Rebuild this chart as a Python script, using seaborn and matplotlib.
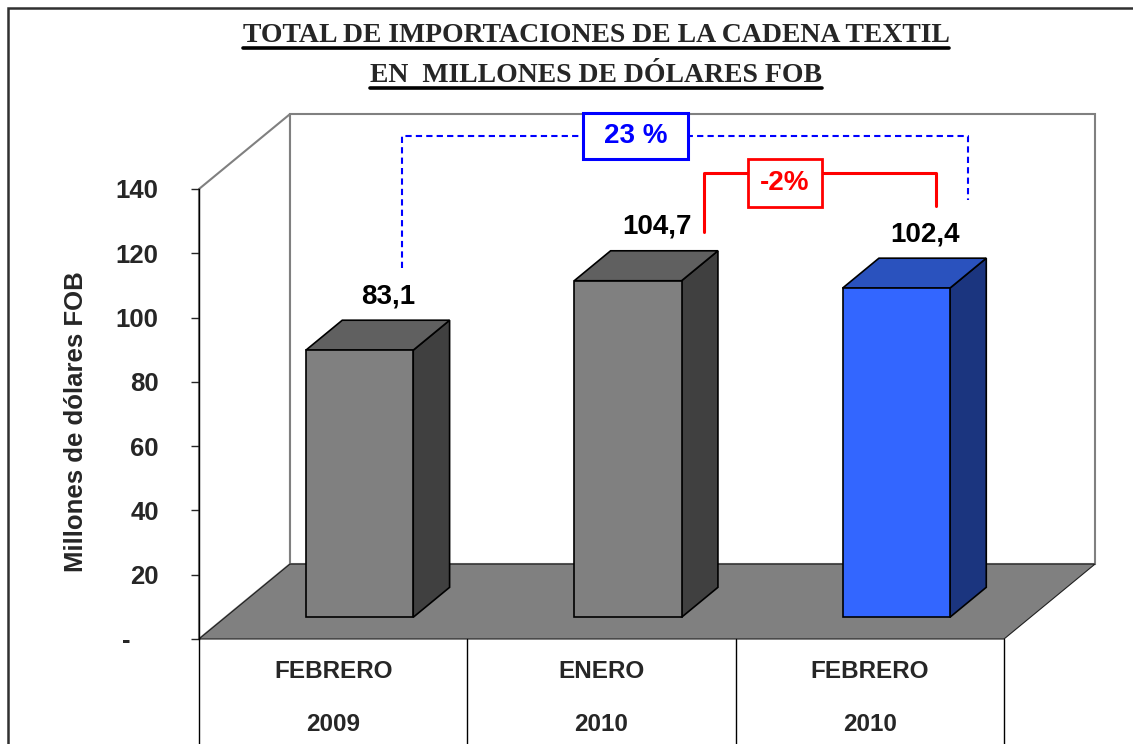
import matplotlib
matplotlib.use("Agg")
import matplotlib.pyplot as plt
from matplotlib.patches import Polygon, Rectangle
from matplotlib.lines import Line2D
import seaborn as sns

# data
periods = ["FEBRERO 2009", "ENERO 2010", "FEBRERO 2010"]
months = ["FEBRERO", "ENERO", "FEBRERO"]
years = ["2009", "2010", "2010"]
values = [83.1, 104.7, 102.4]
value_labels = ["83,1", "104,7", "102,4"]
front_colors = ["#808080", "#808080", "#3366FF"]
top_colors = ["#606060", "#606060", "#2A52BE"]
side_colors = ["#404040", "#404040", "#1B357F"]
yticks = [0, 20, 40, 60, 80, 100, 120, 140]
ytick_labels = ["-    ", "20", "40", "60", "80", "100", "120", "140"]

title1 = "TOTAL DE IMPORTACIONES DE LA CADENA TEXTIL"
title2 = "EN  MILLONES DE DÓLARES FOB"
ylabel = "Millones de dólares FOB"

# percent changes shown in the boxes
pct_year = round((values[2] / values[0] - 1) * 100)
pct_month = round((values[2] / values[1] - 1) * 100)

# fake 3d depth (x in category units, y in value units)
DX, DY = 0.339, 23.3
F0, FB = 0.29, 0.40

sns.set_style("white")
plt.rcParams['font.family'] = ['Liberation Sans', 'DejaVu Sans']

fig = plt.figure(figsize=(11.33, 7.44), dpi=100)
ax = fig.add_axes([199 / 1133, 105 / 744, 805 / 1133, 450 / 744])

sns.barplot(x=periods, y=values, hue=periods, palette=front_colors, width=0.4,
            saturation=1, edgecolor="black", linewidth=1.2, legend=False, ax=ax, zorder=3)
bars = [p for c in ax.containers for p in c]

# walls and floor
ax.add_patch(Rectangle((-0.5 + DX, DY), 3, 140, facecolor="white",
                       edgecolor="#808080", lw=1.5, zorder=0.1, clip_on=False))
ax.add_patch(Polygon([(-0.5, 0), (-0.5, 140), (-0.5 + DX, 140 + DY), (-0.5 + DX, DY)],
                     closed=True, facecolor="white", edgecolor="#808080", lw=1.5,
                     zorder=0.2, clip_on=False))
ax.add_patch(Polygon([(-0.5, 0), (2.5, 0), (2.5 + DX, DY), (-0.5 + DX, DY)],
                     closed=True, facecolor="#808080", edgecolor="#202020", lw=0.8,
                     zorder=0.3, clip_on=False))

for i, p in enumerate(bars):
    x0 = p.get_x() + F0 * DX
    w = p.get_width()
    h = p.get_height()
    y0 = F0 * DY
    bx, by = FB * DX, FB * DY
    p.set_x(x0)
    p.set_y(y0)
    p.set_clip_on(False)
    ax.add_patch(Polygon([(x0 + w, y0), (x0 + w + bx, y0 + by), (x0 + w + bx, y0 + by + h),
                          (x0 + w, y0 + h)], closed=True, facecolor=side_colors[i],
                         edgecolor="black", lw=1.2, zorder=2.5, clip_on=False))
    ax.add_patch(Polygon([(x0, y0 + h), (x0 + bx, y0 + h + by), (x0 + w + bx, y0 + h + by),
                          (x0 + w, y0 + h)], closed=True, facecolor=top_colors[i],
                         edgecolor="black", lw=1.2, zorder=2.5, clip_on=False))
    ax.text(x0 + w / 2 + 0.8 * bx, y0 + h + by + 7.5, value_labels[i], ha="center",
            va="center", fontsize=20, fontweight="bold", color="black", zorder=5,
            clip_on=False)

ax.set_xlim(-0.5, 2.5)
ax.set_ylim(0, 140)
ax.set_yticks(yticks)
ax.set_yticklabels(ytick_labels, fontsize=18.5, fontweight="bold")
ax.tick_params(axis="y", direction="out", length=6, width=1, pad=23, left=True)
ax.set_xticks([])
ax.set_xlabel("")
ax.set_ylabel(ylabel, fontsize=18.5, fontweight="bold")
ax.yaxis.set_label_coords(-0.138, 0.484)
for s in ["top", "right", "bottom"]:
    ax.spines[s].set_visible(False)
ax.spines["left"].set_color("black")
ax.spines["left"].set_linewidth(1)
ax.spines["left"].set_zorder(4)
ax.patch.set_alpha(0)

# category "table" under the floor
trans = ax.get_xaxis_transform()
for xd in [-0.5, 0.5, 1.5, 2.5]:
    ax.add_line(Line2D([xd, xd], [0, -0.3], transform=trans, color="black", lw=1,
                       clip_on=False))
for i in range(len(months)):
    ax.text(i, -0.073, months[i], transform=trans, ha="center", va="center",
            fontsize=17.5, fontweight="bold")
    ax.text(i, -0.189, years[i], transform=trans, ha="center", va="center",
            fontsize=17.5, fontweight="bold")

# blue dashed bracket (feb 2009 -> feb 2010)
ax.plot([0.257, 0.257, 2.366, 2.366], [115.4, 156.5, 156.5, 136.6], color="#0000FF",
        lw=1.5, dashes=(3, 2), clip_on=False, zorder=6)
ax.add_patch(Rectangle((0.931, 149.3), 0.391, 14.3, facecolor="white", edgecolor="#0000FF",
                       lw=2.2, zorder=7, clip_on=False))
ax.text(1.127, 156.4, f"{pct_year} %", ha="center", va="center", fontsize=20,
        fontweight="bold", color="#0000FF", zorder=8, clip_on=False)

# red bracket (ene 2010 -> feb 2010)
ax.plot([1.382, 1.382, 2.247, 2.247], [126.6, 145.0, 145.0, 134.7], color="#FF0000",
        lw=2.2, clip_on=False, zorder=6)
ax.add_patch(Rectangle((1.546, 134.4), 0.276, 14.9, facecolor="white", edgecolor="#FF0000",
                       lw=2.0, zorder=7, clip_on=False))
ax.text(1.684, 141.9, f"{pct_month}%", ha="center", va="center", fontsize=20,
        fontweight="bold", color="#FF0000", zorder=8, clip_on=False)

# title with underline
t1 = fig.text(596 / 1133, 1 - 36 / 744, title1, ha="center", va="center", fontsize=20,
              fontweight="bold", family="Liberation Serif")
t2 = fig.text(596 / 1133, 1 - 76 / 744, title2, ha="center", va="center", fontsize=20,
              fontweight="bold", family="Liberation Serif")
fig.canvas.draw()
r = fig.canvas.get_renderer()
for t in [t1, t2]:
    bb = t.get_window_extent(r)
    yl = bb.y0 + 1
    fig.add_artist(Line2D([bb.x0, bb.x1], [yl, yl], transform=None, color="black", lw=2.6))

# outer frame
fig.add_artist(Rectangle((8 / 1133, -0.05), 1.2, 1.05 - 8 / 744, transform=fig.transFigure,
                         fill=False, edgecolor="#303030", lw=1.8))

fig.savefig("out.png", dpi=100)
